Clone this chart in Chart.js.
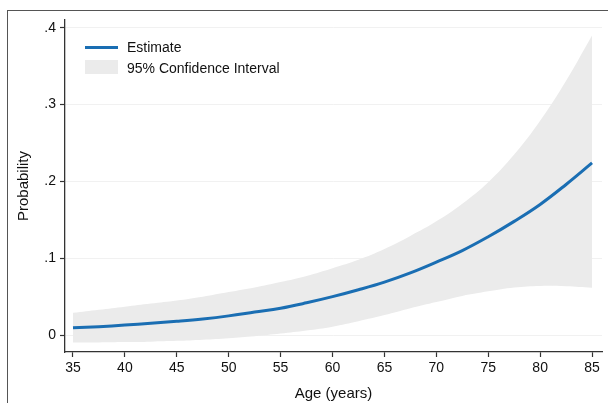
<!DOCTYPE html>
<html>
<head>
<meta charset="utf-8">
<script src="https://cdn.jsdelivr.net/npm/chart.js@4"></script>
<style>
  html, body { margin: 0; padding: 0; background: #fff; }
  #wrap { position: relative; width: 608px; height: 403px; overflow: hidden; font-family: "Liberation Sans", Arial, Helvetica, sans-serif; }
  #frame { position: absolute; left: 7px; top: 10px; right: -2px; bottom: -2px; border-top: 1.5px solid #555; border-left: 1.5px solid #555; }
  canvas { position: absolute; left: 0; top: 0; }
  .leg { position: absolute; font-size: 14px; color: #111; white-space: nowrap; }
  .swline { position: absolute; height: 3px; background: #1a6eb3; }
  .swbox { position: absolute; background: #ebebeb; }
</style>
</head>
<body>
<div id="wrap">
  <div id="frame"></div>
  <canvas id="c" width="608" height="403"></canvas>
  <div class="swline" style="left:85px; top:46px; width:33px;"></div>
  <div class="leg" style="left:127px; top:39px;">Estimate</div>
  <div class="swbox" style="left:85px; top:60px; width:33px; height:14px;"></div>
  <div class="leg" style="left:127px; top:60px;">95% Confidence Interval</div>
</div>
<script>
const ages = [35, 37.5, 40, 42.5, 45, 47.5, 50, 52.5, 55, 57.5, 60, 62.5, 65, 67.5, 70, 72.5, 75, 77.5, 80, 82.5, 85];
const estimate = [0.0095, 0.011, 0.013, 0.0155, 0.018, 0.021, 0.025, 0.030, 0.035, 0.042, 0.050, 0.059, 0.069, 0.081, 0.095, 0.110, 0.128, 0.148, 0.170, 0.196, 0.224];
const ciUpper = [0.029, 0.033, 0.037, 0.041, 0.045, 0.050, 0.056, 0.062, 0.069, 0.077, 0.087, 0.098, 0.112, 0.129, 0.148, 0.171, 0.199, 0.235, 0.279, 0.331, 0.390];
const ciLower = [-0.0095, -0.0095, -0.009, -0.0085, -0.0075, -0.006, -0.004, -0.0015, 0.002, 0.006, 0.011, 0.018, 0.026, 0.035, 0.043, 0.051, 0.057, 0.062, 0.064, 0.0635, 0.0615];
const xTicks = [35, 40, 45, 50, 55, 60, 65, 70, 75, 80, 85];
const yTicks = [0, 0.1, 0.2, 0.3, 0.4];
const yTickLabels = ["0", ".1", ".2", ".3", ".4"];

const pts = arr => ages.map((a, i) => ({ x: a, y: arr[i] }));
const FONT = "'Liberation Sans', Arial, Helvetica, sans-serif";
const dark = '#333333';

new Chart(document.getElementById('c'), {
  type: 'line',
  data: {
    datasets: [
      { label: 'Estimate', data: pts(estimate), borderColor: '#1a6eb3', borderWidth: 3, pointRadius: 0, fill: false, tension: 0.4, order: 0 },
      { label: 'Upper', data: pts(ciUpper), borderWidth: 0, borderColor: 'rgba(0,0,0,0)', backgroundColor: '#ebebeb', pointRadius: 0, fill: '+1', tension: 0.4, order: 1 },
      { label: 'Lower', data: pts(ciLower), borderWidth: 0, borderColor: 'rgba(0,0,0,0)', pointRadius: 0, fill: false, tension: 0.4, order: 2 }
    ]
  },
  options: {
    responsive: false,
    animation: false,
    layout: { padding: { left: 15, top: 20, right: 6, bottom: 0 } },
    plugins: { legend: { display: false }, tooltip: { enabled: false } },
    scales: {
      x: {
        type: 'linear',
        min: 34.23, max: 85.96,
        afterBuildTicks: s => { s.ticks = xTicks.map(v => ({ value: v })); },
        afterFit: s => { s.height = 51; },
        ticks: { color: '#111', font: { family: FONT, size: 14 }, padding: 3, maxRotation: 0, autoSkip: false },
        grid: { drawOnChartArea: false, tickLength: 5, tickColor: dark, tickWidth: 1.2 },
        border: { color: dark, width: 1.3 },
        title: { display: true, text: 'Age (years)', color: '#111', font: { family: FONT, size: 15 }, padding: { top: 4, bottom: 0 } }
      },
      y: {
        min: -0.022, max: 0.41,
        afterBuildTicks: s => { s.ticks = yTicks.map(v => ({ value: v })); },
        afterFit: s => { s.width = 50; },
        ticks: { color: '#111', font: { family: FONT, size: 14 }, padding: 4,
          callback: (v) => { const i = yTicks.findIndex(t => Math.abs(t - v) < 1e-9); return i >= 0 ? yTickLabels[i] : ''; } },
        grid: { color: '#f1f1f1', lineWidth: 1, tickLength: 5, tickColor: dark, tickWidth: 1.2 },
        border: { color: dark, width: 1.3 },
        title: { display: true, text: 'Probability', color: '#111', font: { family: FONT, size: 15 }, padding: { top: 0, bottom: 6 } }
      }
    }
  }
});
</script>
</body>
</html>
